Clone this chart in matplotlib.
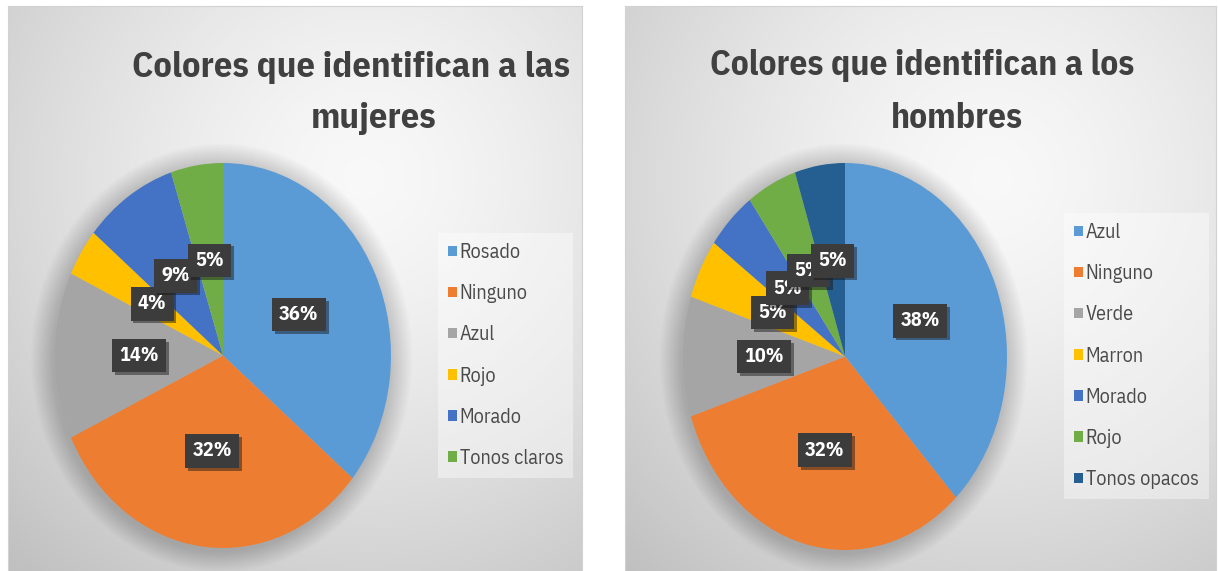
import numpy as np
import matplotlib
matplotlib.use("Agg")
import matplotlib.pyplot as plt
from matplotlib.patches import Patch, Ellipse
import matplotlib.patheffects as pe
from matplotlib import font_manager as fm

# ---------------- data ----------------
women_title = ["Colores que identifican a las", "mujeres"]
women_labels = ["Rosado", "Ninguno", "Azul", "Rojo", "Morado", "Tonos claros"]
women_values = [36, 32, 14, 4, 9, 5]
women_colors = ["#5B9BD5", "#ED7D31", "#A5A5A5", "#FFC000", "#4472C4", "#70AD47"]

men_title = ["Colores que identifican a los", "hombres"]
men_labels = ["Azul", "Ninguno", "Verde", "Marron", "Morado", "Rojo", "Tonos opacos"]
men_values = [38, 32, 10, 5, 5, 5, 5]
men_colors = ["#5B9BD5", "#ED7D31", "#A5A5A5", "#FFC000", "#4472C4", "#70AD47", "#255E91"]

# ---------------- setup ----------------
W, H = 1218, 571
avail = {f.name for f in fm.fontManager.ttflist}
FONT = next((f for f in ["IBM Plex Sans Condensed", "Carlito", "Open Sans"] if f in avail), "DejaVu Sans")

fig = plt.figure(figsize=(W / 100, H / 100), dpi=100, facecolor="white")


def rect_px(x0, y0, x1, y1):
    return [x0 / W, 1 - y1 / H, (x1 - x0) / W, (y1 - y0) / H]


def background(x0, y0, x1, y1, cfx, cfy):
    ax = fig.add_axes(rect_px(x0, y0, x1, y1), zorder=0)
    w, h = int(x1 - x0), int(y1 - y0)
    yy, xx = np.mgrid[0:h, 0:w]
    d = np.hypot(xx - cfx * w, yy - cfy * h) / (0.9 * max(w, h))
    g = 0.975 - 0.22 * np.clip(d, 0, 1) ** 1.4
    ax.imshow(np.dstack([g, g, g]), extent=[0, 1, 0, 1], aspect="auto",
              interpolation="bilinear")
    ax.set_xlim(0, 1)
    ax.set_ylim(0, 1)
    ax.set_xticks([])
    ax.set_yticks([])
    for s in ax.spines.values():
        s.set_color("#d2d2d2")
        s.set_linewidth(0.8)
    return ax


def pie(cx, cy, rx, ry, values, colors):
    ax = fig.add_axes(rect_px(cx - rx, cy - ry, cx + rx, cy + ry), zorder=2)
    ax.patch.set_alpha(0)
    # soft shadow halo
    for k in range(1, 16):
        ax.add_patch(Ellipse((-0.008, -0.012), 2 + 0.018 * k, 2 + 0.015 * k,
                             facecolor="black", edgecolor="none", alpha=0.012,
                             zorder=0, clip_on=False))
    wedges, texts, autotexts = ax.pie(
        values, colors=colors, startangle=90, counterclock=False,
        autopct=lambda p: f"{p:.0f}%", pctdistance=0.5,
        wedgeprops=dict(linewidth=0),
        textprops=dict(color="white", fontsize=14.5, fontweight="bold",
                       family=FONT))
    for w_ in wedges:
        w_.set_zorder(1)
    ax.set_aspect("auto")
    ax.set_xlim(-1, 1)
    ax.set_ylim(-1, 1)
    ax.axis("off")
    for i, t in enumerate(autotexts):
        t.set_bbox(dict(boxstyle="square,pad=0.36", facecolor="#3c3c3c",
                        edgecolor="none"))
        t.get_bbox_patch().set_path_effects(
            [pe.SimplePatchShadow(offset=(2, -2), alpha=0.45), pe.Normal()])
        t.set_zorder(5 + i)
    return ax


def legend(x, y, labels, colors):
    handles = [Patch(facecolor=c, edgecolor="none") for c in colors]
    leg = fig.legend(handles, labels, loc="upper left",
                     bbox_to_anchor=(x / W, 1 - y / H),
                     bbox_transform=fig.transFigure, frameon=True,
                     fancybox=False, facecolor="white", framealpha=0.4,
                     edgecolor="none", borderpad=0.5, borderaxespad=0,
                     handlelength=0.42, handleheight=0.42, handletextpad=0.15,
                     labelspacing=1.1, prop=dict(family=FONT, size=14.5))
    for t in leg.get_texts():
        t.set_color("#4a4a4a")
    leg.set_zorder(3)
    return leg


def title(lines, centers, baselines, target_w):
    r = fig.canvas.get_renderer()
    t0 = fig.text(centers[0] / W, 1 - baselines[0] / H, lines[0], ha="center",
                  va="baseline", family=FONT, fontweight="bold", fontsize=26,
                  color="#404040", zorder=4)
    wpx = t0.get_window_extent(r).width
    fs = 26 * target_w / wpx
    t0.set_fontsize(fs)
    fig.text(centers[1] / W, 1 - baselines[1] / H, lines[1], ha="center",
             va="baseline", family=FONT, fontweight="bold", fontsize=fs,
             color="#404040", zorder=4)


# ---------------- panels ----------------
background(8, 6, 582, 580, 0.62, 0.30)
background(625, 6, 1216, 580, 0.62, 0.30)

pie(223, 355.5, 168, 192.5, women_values, women_colors)
pie(845, 356.5, 162, 193.5, men_values, men_colors)

legend(438, 233, women_labels, women_colors)
legend(1064, 213, men_labels, men_colors)

title(women_title, (351, 374), (77, 128), 438)
title(men_title, (922, 957), (75, 128), 425)

fig.savefig("out.png", dpi=100, facecolor="white")
